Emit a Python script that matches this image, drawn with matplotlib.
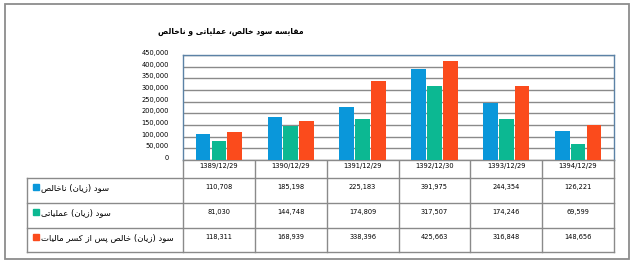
import matplotlib
matplotlib.use("Agg")
import matplotlib.pyplot as plt
import matplotlib.transforms as mtransforms
import numpy as np

# data
dates = ["1389/12/29", "1390/12/29", "1391/12/29", "1392/12/30", "1393/12/29", "1394/12/29"]
gross = [110708, 185198, 225183, 391975, 244354, 126221]
operating = [81030, 144748, 174809, 317507, 174246, 69599]
net_after_tax = [118311, 168939, 338396, 425663, 316848, 148656]
series_names = ["سود (زیان) ناخالص", "سود (زیان) عملیاتی", "سود (زیان) خالص پس از کسر مالیات"]
title = "مقایسه سود خالص، عملیاتی و ناخالص"
colors = ["#0a97da", "#0cb892", "#fb4b1c"]

# simple arabic/persian shaping, matplotlib has no RTL layout
FORMS = {
    "ا": ("\uFE8D", "\uFE8E", None, None),
    "ب": ("\uFE8F", "\uFE90", "\uFE91", "\uFE92"),
    "پ": ("\uFB56", "\uFB57", "\uFB58", "\uFB59"),
    "ت": ("\uFE95", "\uFE96", "\uFE97", "\uFE98"),
    "خ": ("\uFEA5", "\uFEA6", "\uFEA7", "\uFEA8"),
    "د": ("\uFEA9", "\uFEAA", None, None),
    "ر": ("\uFEAD", "\uFEAE", None, None),
    "ز": ("\uFEAF", "\uFEB0", None, None),
    "س": ("\uFEB1", "\uFEB2", "\uFEB3", "\uFEB4"),
    "ص": ("\uFEB9", "\uFEBA", "\uFEBB", "\uFEBC"),
    "ع": ("\uFEC9", "\uFECA", "\uFECB", "\uFECC"),
    "ق": ("\uFED5", "\uFED6", "\uFED7", "\uFED8"),
    "ک": ("\uFB8E", "\uFB8F", "\uFB90", "\uFB91"),
    "ل": ("\uFEDD", "\uFEDE", "\uFEDF", "\uFEE0"),
    "م": ("\uFEE1", "\uFEE2", "\uFEE3", "\uFEE4"),
    "ن": ("\uFEE5", "\uFEE6", "\uFEE7", "\uFEE8"),
    "ه": ("\uFEE9", "\uFEEA", "\uFEEB", "\uFEEC"),
    "و": ("\uFEED", "\uFEEE", None, None),
    "ی": ("\uFBFC", "\uFBFD", "\uFBFE", "\uFBFF"),
}


def shape(s):
    out = []
    n = len(s)
    for i, c in enumerate(s):
        if c not in FORMS:
            out.append(c)
            continue
        prev = s[i - 1] if i > 0 else ""
        nxt = s[i + 1] if i < n - 1 else ""
        join_prev = prev in FORMS and FORMS[prev][2] is not None
        join_next = nxt in FORMS and FORMS[c][2] is not None
        f = FORMS[c]
        if join_prev and join_next:
            out.append(f[3])
        elif join_prev:
            out.append(f[1])
        elif join_next:
            out.append(f[2])
        else:
            out.append(f[0])
    # right-to-left: reverse and mirror brackets
    r = "".join(out)[::-1]
    return r.translate(str.maketrans("()", ")("))


W, H = 641, 269
fig = plt.figure(figsize=(W / 100, H / 100), dpi=100)


def box(x0, y0, x1, y1):
    # pixel box (top-left origin) -> figure fraction
    return [x0 / W, 1 - y1 / H, (x1 - x0) / W, (y1 - y0) / H]


# outer frame
frame = fig.add_axes([0, 0, 1, 1])
frame.set_xlim(0, W)
frame.set_ylim(H, 0)
frame.axis("off")
frame.add_patch(plt.Rectangle((5, 4), 624, 255, fill=False, ec="#8c8c8c", lw=1.3))

frame.text(231, 31, shape(title), ha="center", va="center", fontsize=5.5,
           fontweight="bold", family="DejaVu Sans")

# bars
ax = fig.add_axes(box(183, 55, 614, 160))
x = np.arange(len(dates))
bw = 0.205
for k, vals in enumerate([gross, operating, net_after_tax]):
    ax.bar(x + (k - 1) * (bw + 0.015), vals, width=bw, color=colors[k], zorder=3)
ax.set_xlim(-0.5, len(dates) - 0.5)
ax.set_ylim(0, 450000)
ax.set_yticks(np.arange(0, 450001, 50000))
ax.set_yticklabels([f"{v:,}" for v in range(0, 450001, 50000)], fontsize=4.8)
ax.tick_params(axis="y", length=0, pad=10)
ax.tick_params(axis="x", length=0, labelbottom=False)
up = mtransforms.ScaledTranslation(0, 2.5 / 100, fig.dpi_scale_trans)
for lab in ax.get_yticklabels():
    lab.set_transform(lab.get_transform() + up)
ax.grid(axis="y", color="#8a8a8a", lw=1, zorder=0)
for s in ["top", "right", "left"]:
    ax.spines[s].set_color("#5b82a6")
ax.spines["bottom"].set_color("#8a8a8a")
for s in ax.spines.values():
    s.set_linewidth(1)

# table under the chart
tx0, tx1 = 183, 614
cw = (tx1 - tx0) / len(dates)
rows_y = [160, 178, 203, 228, 252]
gc = "#8a8a8a"
for j in range(len(dates) + 1):
    frame.plot([tx0 + j * cw] * 2, [160, 252], color=gc, lw=1)
frame.plot([27, 27], [178, 252], color=gc, lw=1)
for yy in rows_y[1:]:
    frame.plot([27, tx1], [yy, yy], color=gc, lw=1)

for j, d in enumerate(dates):
    frame.text(tx0 + (j + 0.5) * cw, 166, d, ha="center", va="center", fontsize=4.9)

for r, vals in enumerate([gross, operating, net_after_tax]):
    yc = rows_y[r + 1] + 9
    frame.add_patch(plt.Rectangle((33, yc - 3), 6, 6, color=colors[r]))
    frame.text(41, yc + 0.5, shape(series_names[r]), ha="left", va="center",
               fontsize=6.1, family="DejaVu Sans")
    for j, v in enumerate(vals):
        frame.text(tx0 + (j + 0.5) * cw, yc, f"{v:,}", ha="center", va="center",
                   fontsize=4.8)

fig.savefig("out.png", dpi=100)
